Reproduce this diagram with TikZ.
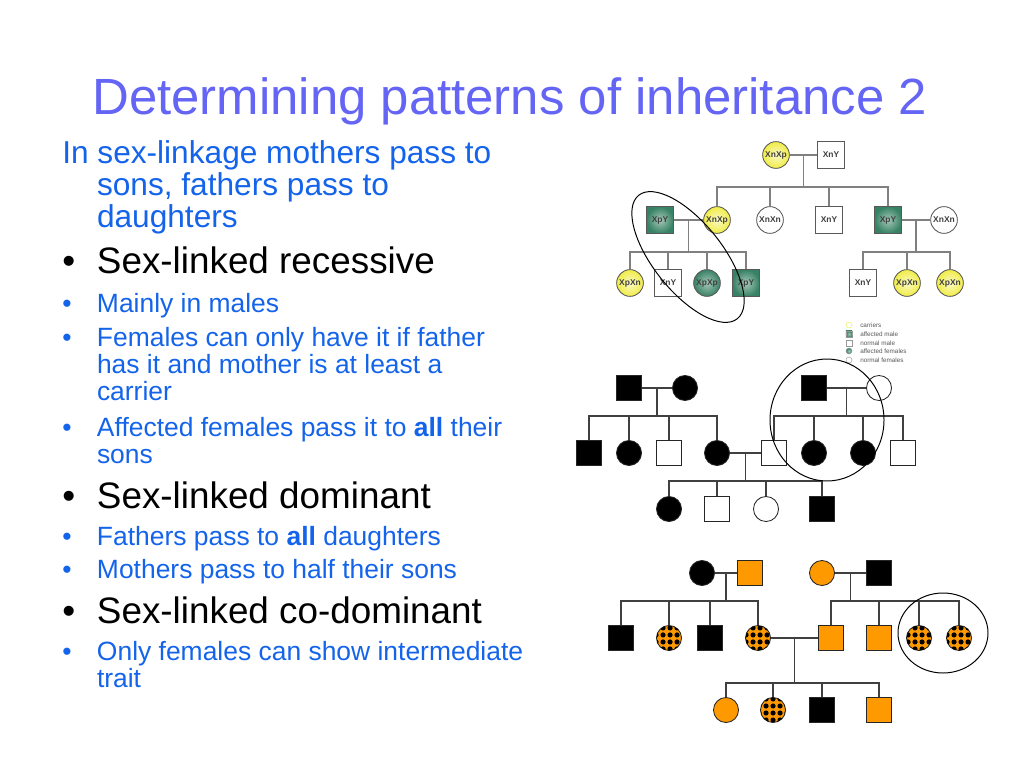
\documentclass[tikz,border=0pt]{standalone}
\usepackage{fontspec}
\setmainfont{Liberation Sans}
\usetikzlibrary{positioning, calc, patterns}
\definecolor{titleblue}{RGB}{100, 100, 245}
\definecolor{textblue}{RGB}{20, 100, 235}
\definecolor{carryellow}{RGB}{240, 236, 70}
\definecolor{affgreen}{RGB}{55, 130, 100}
\definecolor{traitorange}{RGB}{255, 153, 0}
\pgfdeclarepatternformonly{blobs}{\pgfqpoint{0pt}{0pt}}{\pgfqpoint{4.6pt}{4.6pt}}{\pgfqpoint{4.6pt}{4.6pt}}{\pgfpathcircle{\pgfqpoint{2.3pt}{2.3pt}}{1.95pt}\pgfusepath{fill}}
\newcommand{\bul}{\makebox[24.7pt][l]{\textbullet}}
\newcommand{\ind}{\hspace*{24.7pt}}
\tikzstyle{titletext} = [anchor=base west, inner sep=0pt, font=\fontsize{36.2}{40}\selectfont, text=titleblue]
\tikzstyle{introtext} = [anchor=base west, inner sep=0pt, align=left, font=\fontsize{22.5}{22.6}\selectfont, text=textblue]
\tikzstyle{headtext} = [anchor=base west, inner sep=0pt, font=\fontsize{26.2}{28}\selectfont, text=black]
\tikzstyle{itemtext} = [anchor=base west, inner sep=0pt, align=left, font=\fontsize{18.8}{19}\selectfont, text=textblue]
\tikzstyle{tsq} = [rectangle, draw=black!65, line width=0.6pt, fill=white, minimum size=19pt, inner sep=0pt, font=\fontsize{6}{6}\selectfont\bfseries, text=black!75]
\tikzstyle{tci} = [circle, draw=black!65, line width=0.6pt, fill=white, minimum size=19pt, inner sep=0pt, font=\fontsize{6}{6}\selectfont\bfseries, text=black!75]
\tikzstyle{carrier} = [inner color=carryellow!30, outer color=carryellow]
\tikzstyle{affected} = [inner color=affgreen!45, outer color=affgreen]
\tikzstyle{psq} = [rectangle, draw=black!85, line width=0.6pt, fill=white, minimum size=17.8pt, inner sep=0pt]
\tikzstyle{pci} = [circle, draw=black!85, line width=0.6pt, fill=white, minimum size=17.8pt, inner sep=0pt]
\tikzstyle{aff} = [fill=black]
\tikzstyle{orng} = [fill=traitorange]
\tikzstyle{speck} = [fill=traitorange, postaction={pattern=blobs}]
\tikzstyle{lsq} = [rectangle, draw=black!40, line width=0.3pt, fill=white, minimum size=4.3pt, inner sep=0pt]
\tikzstyle{lci} = [circle, draw=black!40, line width=0.3pt, fill=white, minimum size=4.3pt, inner sep=0pt]
\tikzstyle{legtext} = [anchor=west, inner sep=0pt, font=\fontsize{4.5}{5}\selectfont, text=black!65]
\tikzstyle{tline} = [draw=black!50, line width=0.9pt]
\tikzstyle{pline} = [draw=black!75, line width=0.9pt]
\tikzstyle{ring} = [draw=black, line width=0.7pt]

\begin{document}
\begin{tikzpicture}[x=0.025cm, y=-0.025cm]
    \fill[white] (0,0) rectangle (1024,768);
    \useasboundingbox (0,0) rectangle (1024,768);

    % Title
    \node[titletext] (title) at (92,115) {Determining patterns of inheritance 2};

    % Text (multi-line nodes sit on their last line)
    \node[introtext] (intro) at (62,227) {In sex-linkage mothers pass to\\\ind sons, fathers pass to\\\ind daughters};
    \node[headtext] (recessive) at (62,273) {\bul Sex-linked recessive};
    \node[itemtext] (mainly) at (62,312) {\bul Mainly in males};
    \node[itemtext] (females) at (62,400) {\bul Females can only have it if father\\\ind has it and mother is at least a\\\ind carrier};
    \node[itemtext] (affsons) at (62,463) {\bul Affected females pass it to \textbf{all} their\\\ind sons};
    \node[headtext] (dominant) at (62,508) {\bul Sex-linked dominant};
    \node[itemtext] (fathers) at (62,545) {\bul Fathers pass to \textbf{all} daughters};
    \node[itemtext] (mothers) at (62,578) {\bul Mothers pass to half their sons};
    \node[headtext] (codominant) at (62,623) {\bul Sex-linked co-dominant};
    \node[itemtext] (onlyfem) at (62,687) {\bul Only females can show intermediate\\\ind trait};

    % Recessive pedigree
    \node[tci, carrier] (tgm) at (776,155) {XnXp};
    \node[tsq] (tgf) at (831,155) {XnY};
    \node[tsq, affected] (tpy) at (660,220) {XpY};
    \node[tci, carrier] (td1) at (717,220) {XnXp};
    \node[tci] (td2) at (770,220) {XnXn};
    \node[tsq] (ts1) at (829,220) {XnY};
    \node[tsq, affected] (ts2) at (888,220) {XpY};
    \node[tci] (tw) at (944,220) {XnXn};
    \node[tci, carrier] (tc1) at (630,283) {XpXn};
    \node[tsq] (tc2) at (668,283) {XnY};
    \node[tci, affected] (tc3) at (707,283) {XpXp};
    \node[tsq, affected] (tc4) at (746,283) {XpY};
    \node[tsq] (tr1) at (863,283) {XnY};
    \node[tci, carrier] (tr2) at (907,283) {XpXn};
    \node[tci, carrier] (tr3) at (950,283) {XpXn};

    \coordinate (tm0) at ($(tgm)!0.5!(tgf)$);
    \coordinate (tk0) at ($(tm0)+(0,32)$);
    \coordinate (tm1) at ($(tpy)!0.5!(td1)$);
    \coordinate (tk1) at ($(tm1)+(0,32)$);
    \coordinate (tm2) at ($(ts2)!0.5!(tw)$);
    \coordinate (tk2) at ($(tm2)+(0,32)$);
    \draw[tline] (tgm) -- (tgf) (tm0) -- (tk0) -| (td1) (tk0) -| (td2) (tk0) -| (ts1) (tk0) -| (ts2);
    \draw[tline] (tpy) -- (td1) (tm1) -- (tk1) -| (tc1) (tk1) -| (tc2) (tk1) -| (tc3) (tk1) -| (tc4);
    \draw[tline] (ts2) -- (tw) (tm2) -- (tk2) -| (tr1) (tk2) -| (tr2) (tk2) -| (tr3);

    % Legend
    \node[lci, draw=carryellow] (lg1) at (849,325) {};
    \node[lsq, affected] (lg2) at (849,334) {};
    \node[lsq] (lg3) at (849,343) {};
    \node[lci, affected] (lg4) at (849,351) {};
    \node[lci] (lg5) at (849,360) {};
    \node[legtext] (lt1) at (860,325) {carriers};
    \node[legtext] (lt2) at (860,334) {affected male};
    \node[legtext] (lt3) at (860,343) {normal male};
    \node[legtext] (lt4) at (860,351) {affected females};
    \node[legtext] (lt5) at (860,360) {normal females};

    % Dominant pedigree
    \node[psq, aff] (mgf) at (629,388) {};
    \node[pci, aff] (mgm) at (685,388) {};
    \node[psq, aff] (mc1) at (589,453) {};
    \node[pci, aff] (mc2) at (629,453) {};
    \node[psq] (mc3) at (669,453) {};
    \node[pci, aff] (mc4) at (717,453) {};
    \node[psq, aff] (mrf) at (814,388) {};
    \node[pci] (mrm) at (879,388) {};
    \node[psq] (mr1) at (774,453) {};
    \node[pci, aff] (mr2) at (814,453) {};
    \node[pci, aff] (mr3) at (863,453) {};
    \node[psq] (mr4) at (903,453) {};
    \node[pci, aff] (mg1) at (669,509) {};
    \node[psq] (mg2) at (717,509) {};
    \node[pci] (mg3) at (766,509) {};
    \node[psq, aff] (mg4) at (822,509) {};

    \coordinate (mm1) at ($(mgf)!0.5!(mgm)$);
    \coordinate (mk1) at ($(mm1)+(0,28)$);
    \coordinate (mm2) at ($(mrf)!0.5!(mrm)$);
    \coordinate (mk2) at ($(mm2)+(0,28)$);
    \coordinate (mm3) at ($(mc4)!0.5!(mr1)$);
    \coordinate (mk3) at ($(mm3)+(0,28)$);
    \draw[pline] (mgf) -- (mgm) (mm1) -- (mk1) -| (mc1) (mk1) -| (mc2) (mk1) -| (mc3) (mk1) -| (mc4);
    \draw[pline] (mrf) -- (mrm) (mm2) -- (mk2) -| (mr1) (mk2) -| (mr2) (mk2) -| (mr3) (mk2) -| (mr4);
    \draw[pline] (mc4) -- (mr1) (mm3) -- (mk3) -| (mg1) (mk3) -| (mg2) (mk3) -| (mg3) (mk3) -| (mg4);

    % Co-dominant pedigree
    \node[pci, aff] (bgm) at (702,573) {};
    \node[psq, orng] (bgf) at (750,573) {};
    \node[psq, aff] (bc1) at (621,638) {};
    \node[pci, speck] (bc2) at (669,638) {};
    \node[psq, aff] (bc3) at (710,638) {};
    \node[pci, speck] (bc4) at (758,638) {};
    \node[pci, orng] (brm) at (822,573) {};
    \node[psq, aff] (brf) at (879,573) {};
    \node[psq, orng] (br1) at (831,638) {};
    \node[psq, orng] (br2) at (879,638) {};
    \node[pci, speck] (br3) at (919,638) {};
    \node[pci, speck] (br4) at (959,638) {};
    \node[pci, orng] (bg1) at (726,710) {};
    \node[pci, speck] (bg2) at (773,710) {};
    \node[psq, aff] (bg3) at (822,710) {};
    \node[psq, orng] (bg4) at (879,710) {};

    \coordinate (bm1) at ($(bgm)!0.5!(bgf)$);
    \coordinate (bk1) at ($(bm1)+(0,28)$);
    \coordinate (bm2) at ($(brm)!0.5!(brf)$);
    \coordinate (bk2) at ($(bm2)+(0,28)$);
    \coordinate (bm3) at ($(bc4)!0.5!(br1)$);
    \coordinate (bk3) at ($(bm3)+(0,45)$);
    \draw[pline] (bgm) -- (bgf) (bm1) -- (bk1) -| (bc1) (bk1) -| (bc2) (bk1) -| (bc3) (bk1) -| (bc4);
    \draw[pline] (brm) -- (brf) (bm2) -- (bk2) -| (br1) (bk2) -| (br2) (bk2) -| (br3) (bk2) -| (br4);
    \draw[pline] (bc4) -- (br1) (bm3) -- (bk3) -| (bg1) (bk3) -| (bg2) (bk3) -| (bg3) (bk3) -| (bg4);

    % Rings
    \draw[ring, rotate around={-51.4:(688,257)}] (688,257) ellipse [x radius=79, y radius=34.5];
    \draw[ring] (827,420) ellipse [x radius=57, y radius=61];
    \draw[ring] (943,633) ellipse [x radius=45, y radius=40];
\end{tikzpicture}
\end{document}
